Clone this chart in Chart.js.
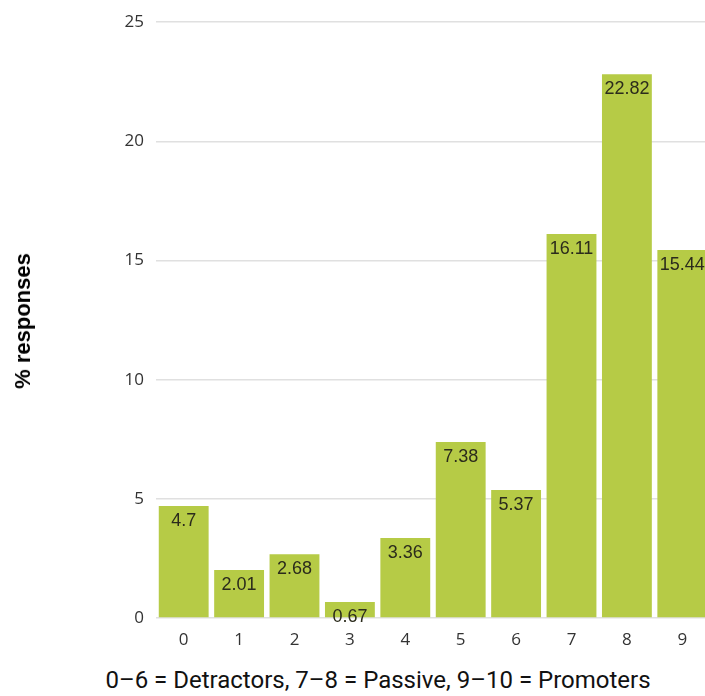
<!DOCTYPE html>
<html>
<head>
<meta charset="utf-8">
<script src="https://cdn.jsdelivr.net/npm/chart.js@4.4.1/dist/chart.umd.min.js"></script>
<style>
  html, body { margin: 0; padding: 0; background: #fff; overflow: hidden; }
  .wrap { position: relative; width: 705px; height: 696px; overflow: hidden; }
  #npsChart { position: absolute; left: 0; top: 0; }
  .y-title {
    position: absolute; left: 23px; top: 321px;
    transform: translate(-50%, -50%) rotate(-90deg);
    font: bold 22px 'Liberation Sans', Arial, sans-serif; color: #000; white-space: nowrap;
  }
  .x-title {
    position: absolute; left: 378px; top: 680px;
    transform: translate(-50%, -50%);
    font: 24px Roboto, sans-serif; color: #111; white-space: nowrap;
  }
</style>
</head>
<body>
<div class="wrap">
  <canvas id="npsChart" width="710" height="650"></canvas>
  <div class="y-title">% responses</div>
  <div class="x-title">0–6 = Detractors, 7–8 = Passive, 9–10 = Promoters</div>
</div>
<script>
// NPS score distribution
const scores = ['0', '1', '2', '3', '4', '5', '6', '7', '8', '9'];
const pctResponses = [4.7, 2.01, 2.68, 0.67, 3.36, 7.38, 5.37, 16.11, 22.82, 15.44];
const yTicks = [0, 5, 10, 15, 20, 25];

// value labels just inside the top of each bar
const barLabels = {
  id: 'barLabels',
  afterDatasetsDraw(chart) {
    const ctx = chart.ctx;
    const meta = chart.getDatasetMeta(0);
    ctx.save();
    ctx.font = '18px "Liberation Sans", Arial, sans-serif';
    ctx.fillStyle = '#2b2b1c';
    ctx.textAlign = 'center';
    ctx.textBaseline = 'middle';
    meta.data.forEach((bar, i) => {
      ctx.fillText(String(pctResponses[i]), bar.x, bar.y + 15);
    });
    ctx.restore();
  }
};

new Chart(document.getElementById('npsChart'), {
  type: 'bar',
  data: {
    labels: scores,
    datasets: [{
      data: pctResponses,
      backgroundColor: '#b6cb46',
      borderWidth: 0,
      barPercentage: 0.9,
      categoryPercentage: 1.0
    }]
  },
  options: {
    responsive: false,
    animation: false,
    devicePixelRatio: 1,
    layout: { padding: { top: 18, right: 0, bottom: 0, left: 0 } },
    plugins: { legend: { display: false }, tooltip: { enabled: false } },
    scales: {
      x: {
        grid: { display: false },
        border: { display: false },
        ticks: { color: '#333', font: { family: 'Open Sans', size: 17 }, padding: 4 },
        afterFit(scale) { scale.height = 32; }
      },
      y: {
        min: 0,
        max: 25,
        afterBuildTicks(scale) { scale.ticks = yTicks.map(v => ({ value: v })); },
        grid: { color: '#e0e0e0', lineWidth: 1.5, drawTicks: false },
        border: { display: false },
        ticks: { color: '#333', font: { family: 'Open Sans', size: 17 }, padding: 12 },
        afterFit(scale) { scale.width = 156; }
      }
    }
  },
  plugins: [barLabels]
});
</script>
</body>
</html>
